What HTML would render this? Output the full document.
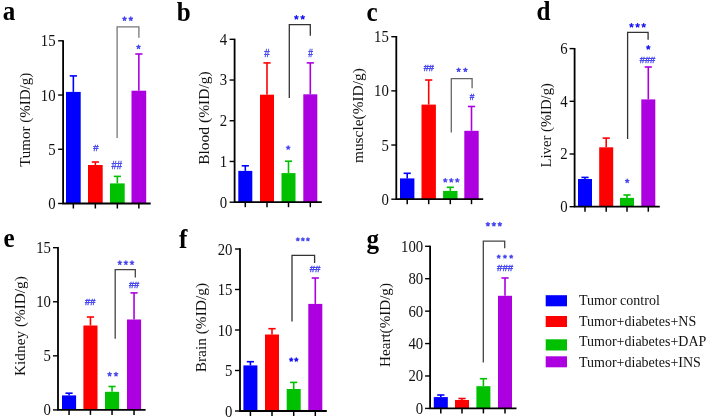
<!DOCTYPE html>
<html><head><meta charset="utf-8"><style>
html,body{margin:0;padding:0;background:#fff;}
svg{display:block;will-change:transform;filter:blur(0.3px);}
.t{font-family:"Liberation Serif",serif;font-size:15px;fill:#111;}
.ti{font-family:"Liberation Serif",serif;fill:#111;}
.L{font-family:"Liberation Serif",serif;font-size:27px;font-weight:bold;fill:#000;}
.m{font-family:"Liberation Sans",sans-serif;}
.lg{font-family:"Liberation Serif",serif;font-size:14px;fill:#111;}
</style></head><body>
<svg width="708" height="420" viewBox="0 0 708 420">
<rect width="708" height="420" fill="#fff"/>
<rect x="66" y="91.9" width="14.7" height="111.6" fill="#0000FF"/>
<line x1="73.35" y1="91.9" x2="73.35" y2="75.9" stroke="#0000FF" stroke-width="1.6"/>
<line x1="69.75" y1="75.9" x2="76.95" y2="75.9" stroke="#0000FF" stroke-width="1.6"/>
<rect x="88" y="165" width="14.7" height="38.5" fill="#FF0000"/>
<line x1="95.35" y1="165" x2="95.35" y2="162" stroke="#FF0000" stroke-width="1.6"/>
<line x1="91.75" y1="162" x2="98.95" y2="162" stroke="#FF0000" stroke-width="1.6"/>
<rect x="110" y="183.4" width="14.7" height="20.1" fill="#00C000"/>
<line x1="117.35" y1="183.4" x2="117.35" y2="176.4" stroke="#00C000" stroke-width="1.6"/>
<line x1="113.75" y1="176.4" x2="120.95" y2="176.4" stroke="#00C000" stroke-width="1.6"/>
<rect x="131.5" y="90.7" width="14.7" height="112.8" fill="#AC00E0"/>
<line x1="138.85" y1="90.7" x2="138.85" y2="54" stroke="#AC00E0" stroke-width="1.6"/>
<line x1="135.25" y1="54" x2="142.45" y2="54" stroke="#AC00E0" stroke-width="1.6"/>
<path d="M63.1 40.15V203.5H150.7" fill="none" stroke="#000" stroke-width="1.8"/>
<line x1="58.1" y1="203.5" x2="63.1" y2="203.5" stroke="#000" stroke-width="1.4"/>
<text transform="translate(55.6 209.1) scale(0.985 1.06)" class="t" text-anchor="end">0</text>
<line x1="58.1" y1="149.27" x2="63.1" y2="149.27" stroke="#000" stroke-width="1.4"/>
<text transform="translate(55.6 154.87) scale(0.985 1.06)" class="t" text-anchor="end">5</text>
<line x1="58.1" y1="95.03" x2="63.1" y2="95.03" stroke="#000" stroke-width="1.4"/>
<text transform="translate(55.6 100.63) scale(0.985 1.06)" class="t" text-anchor="end">10</text>
<line x1="58.1" y1="40.8" x2="63.1" y2="40.8" stroke="#000" stroke-width="1.4"/>
<text transform="translate(55.6 46.4) scale(0.985 1.06)" class="t" text-anchor="end">15</text>
<line x1="73.35" y1="203.5" x2="73.35" y2="208.5" stroke="#000" stroke-width="1.5"/>
<line x1="95.35" y1="203.5" x2="95.35" y2="208.5" stroke="#000" stroke-width="1.5"/>
<line x1="117.35" y1="203.5" x2="117.35" y2="208.5" stroke="#000" stroke-width="1.5"/>
<line x1="138.85" y1="203.5" x2="138.85" y2="208.5" stroke="#000" stroke-width="1.5"/>
<text transform="translate(29.6 166.83) rotate(-90)" class="ti" font-size="15">Tumor (%ID/g)</text>
<text transform="translate(2.8 19.8) scale(0.93 1)" class="L">a</text>
<path d="M117.1 138V26.9H138.9V37.7" fill="none" stroke="#777" stroke-width="1.3"/>
<path d="M124.50 18.80L124.50 17.02M124.50 18.80L126.19 18.25M124.50 18.80L125.54 20.24M124.50 18.80L123.46 20.24M124.50 18.80L122.81 18.25" stroke="#4545F0" stroke-width="1.35" stroke-linecap="round" fill="none"/>
<path d="M130.80 18.80L130.80 17.02M130.80 18.80L132.49 18.25M130.80 18.80L131.84 20.24M130.80 18.80L129.76 20.24M130.80 18.80L129.11 18.25" stroke="#4545F0" stroke-width="1.35" stroke-linecap="round" fill="none"/>
<path d="M138.50 47.00L138.50 45.22M138.50 47.00L140.19 46.45M138.50 47.00L139.54 48.44M138.50 47.00L137.46 48.44M138.50 47.00L136.81 46.45" stroke="#4545F0" stroke-width="1.35" stroke-linecap="round" fill="none"/>
<text transform="translate(93.4 150.6) scale(0.971 1)" x="-0.04" y="0" class="m" font-size="9.79" fill="#4545F0" stroke="#4545F0" stroke-width="0.35">#</text>
<text transform="translate(111.6 169.3) scale(0.917 1)" x="-0.05" y="0" class="m" font-size="10.38" fill="#4545F0" stroke="#4545F0" stroke-width="0.35">##</text>
<rect x="238.3" y="170.9" width="14" height="31.3" fill="#0000FF"/>
<line x1="245.3" y1="170.9" x2="245.3" y2="165.8" stroke="#0000FF" stroke-width="1.6"/>
<line x1="241.7" y1="165.8" x2="248.9" y2="165.8" stroke="#0000FF" stroke-width="1.6"/>
<rect x="260" y="94.7" width="14" height="107.5" fill="#FF0000"/>
<line x1="267" y1="94.7" x2="267" y2="62.9" stroke="#FF0000" stroke-width="1.6"/>
<line x1="263.4" y1="62.9" x2="270.6" y2="62.9" stroke="#FF0000" stroke-width="1.6"/>
<rect x="281.5" y="173.1" width="14" height="29.1" fill="#00C000"/>
<line x1="288.5" y1="173.1" x2="288.5" y2="161.2" stroke="#00C000" stroke-width="1.6"/>
<line x1="284.9" y1="161.2" x2="292.1" y2="161.2" stroke="#00C000" stroke-width="1.6"/>
<rect x="303.3" y="94.3" width="14" height="107.9" fill="#AC00E0"/>
<line x1="310.3" y1="94.3" x2="310.3" y2="62.9" stroke="#AC00E0" stroke-width="1.6"/>
<line x1="306.7" y1="62.9" x2="313.9" y2="62.9" stroke="#AC00E0" stroke-width="1.6"/>
<path d="M234.6 38.65V202.2H321.8" fill="none" stroke="#000" stroke-width="1.8"/>
<line x1="229.6" y1="202.2" x2="234.6" y2="202.2" stroke="#000" stroke-width="1.4"/>
<text transform="translate(227.1 207.5) scale(0.985 1.06)" class="t" text-anchor="end">0</text>
<line x1="229.6" y1="161.47" x2="234.6" y2="161.47" stroke="#000" stroke-width="1.4"/>
<text transform="translate(227.1 166.77) scale(0.985 1.06)" class="t" text-anchor="end">1</text>
<line x1="229.6" y1="120.75" x2="234.6" y2="120.75" stroke="#000" stroke-width="1.4"/>
<text transform="translate(227.1 126.05) scale(0.985 1.06)" class="t" text-anchor="end">2</text>
<line x1="229.6" y1="80.03" x2="234.6" y2="80.03" stroke="#000" stroke-width="1.4"/>
<text transform="translate(227.1 85.33) scale(0.985 1.06)" class="t" text-anchor="end">3</text>
<line x1="229.6" y1="39.3" x2="234.6" y2="39.3" stroke="#000" stroke-width="1.4"/>
<text transform="translate(227.1 44.6) scale(0.985 1.06)" class="t" text-anchor="end">4</text>
<line x1="245.3" y1="202.2" x2="245.3" y2="207.2" stroke="#000" stroke-width="1.5"/>
<line x1="267" y1="202.2" x2="267" y2="207.2" stroke="#000" stroke-width="1.5"/>
<line x1="288.5" y1="202.2" x2="288.5" y2="207.2" stroke="#000" stroke-width="1.5"/>
<line x1="310.3" y1="202.2" x2="310.3" y2="207.2" stroke="#000" stroke-width="1.5"/>
<text transform="translate(208.5 164.79) rotate(-90)" class="ti" font-size="15.5">Blood (%ID/g)</text>
<text transform="translate(176.8 20.5) scale(0.93 1)" class="L">b</text>
<path d="M289.3 97.9V24.6H310.3V35.7" fill="none" stroke="#333" stroke-width="1.3"/>
<path d="M296.40 17.40L296.40 15.55M296.40 17.40L298.16 16.83M296.40 17.40L297.49 18.90M296.40 17.40L295.31 18.90M296.40 17.40L294.64 16.83" stroke="#1515F5" stroke-width="1.35" stroke-linecap="round" fill="none"/>
<path d="M302.70 17.40L302.70 15.55M302.70 17.40L304.46 16.83M302.70 17.40L303.79 18.90M302.70 17.40L301.61 18.90M302.70 17.40L300.94 16.83" stroke="#1515F5" stroke-width="1.35" stroke-linecap="round" fill="none"/>
<path d="M288.20 147.70L288.20 145.92M288.20 147.70L289.89 147.15M288.20 147.70L289.24 149.14M288.20 147.70L287.16 149.14M288.20 147.70L286.51 147.15" stroke="#4545F0" stroke-width="1.35" stroke-linecap="round" fill="none"/>
<text transform="translate(264.4 57.3) scale(0.943 1)" x="-0.04" y="0" class="m" font-size="10.09" fill="#4545F0" stroke="#4545F0" stroke-width="0.35">#</text>
<text transform="translate(308.3 57.3) scale(0.816 1)" x="-0.04" y="0" class="m" font-size="10.09" fill="#4545F0" stroke="#4545F0" stroke-width="0.35">#</text>
<rect x="400" y="178.4" width="14.4" height="20.8" fill="#0000FF"/>
<line x1="407.2" y1="178.4" x2="407.2" y2="173.3" stroke="#0000FF" stroke-width="1.6"/>
<line x1="403.6" y1="173.3" x2="410.8" y2="173.3" stroke="#0000FF" stroke-width="1.6"/>
<rect x="421.5" y="104.6" width="14.4" height="94.6" fill="#FF0000"/>
<line x1="428.7" y1="104.6" x2="428.7" y2="80" stroke="#FF0000" stroke-width="1.6"/>
<line x1="425.1" y1="80" x2="432.3" y2="80" stroke="#FF0000" stroke-width="1.6"/>
<rect x="443.1" y="190.9" width="14.4" height="8.3" fill="#00C000"/>
<line x1="450.3" y1="190.9" x2="450.3" y2="187.3" stroke="#00C000" stroke-width="1.6"/>
<line x1="446.7" y1="187.3" x2="453.9" y2="187.3" stroke="#00C000" stroke-width="1.6"/>
<rect x="464.3" y="130.8" width="14.4" height="68.4" fill="#AC00E0"/>
<line x1="471.5" y1="130.8" x2="471.5" y2="106.5" stroke="#AC00E0" stroke-width="1.6"/>
<line x1="467.9" y1="106.5" x2="475.1" y2="106.5" stroke="#AC00E0" stroke-width="1.6"/>
<path d="M396.3 36.05V199.2H483.2" fill="none" stroke="#000" stroke-width="1.8"/>
<line x1="391.3" y1="199.2" x2="396.3" y2="199.2" stroke="#000" stroke-width="1.4"/>
<text transform="translate(388.8 204.8) scale(0.985 1.06)" class="t" text-anchor="end">0</text>
<line x1="391.3" y1="145.03" x2="396.3" y2="145.03" stroke="#000" stroke-width="1.4"/>
<text transform="translate(388.8 150.63) scale(0.985 1.06)" class="t" text-anchor="end">5</text>
<line x1="391.3" y1="90.87" x2="396.3" y2="90.87" stroke="#000" stroke-width="1.4"/>
<text transform="translate(388.8 96.47) scale(0.985 1.06)" class="t" text-anchor="end">10</text>
<line x1="391.3" y1="36.7" x2="396.3" y2="36.7" stroke="#000" stroke-width="1.4"/>
<text transform="translate(388.8 42.3) scale(0.985 1.06)" class="t" text-anchor="end">15</text>
<line x1="407.2" y1="199.2" x2="407.2" y2="204.2" stroke="#000" stroke-width="1.5"/>
<line x1="428.7" y1="199.2" x2="428.7" y2="204.2" stroke="#000" stroke-width="1.5"/>
<line x1="450.3" y1="199.2" x2="450.3" y2="204.2" stroke="#000" stroke-width="1.5"/>
<line x1="471.5" y1="199.2" x2="471.5" y2="204.2" stroke="#000" stroke-width="1.5"/>
<text transform="translate(362.6 163.09) rotate(-90)" class="ti" font-size="15.4">muscle(%ID/g)</text>
<text transform="translate(366.5 20.6) scale(0.93 1)" class="L">c</text>
<path d="M451.3 132.5V78.6H472.1V88.3" fill="none" stroke="#666" stroke-width="1.3"/>
<path d="M458.60 69.90L458.60 68.12M458.60 69.90L460.29 69.35M458.60 69.90L459.64 71.34M458.60 69.90L457.56 71.34M458.60 69.90L456.91 69.35" stroke="#4545F0" stroke-width="1.35" stroke-linecap="round" fill="none"/>
<path d="M465.40 69.90L465.40 68.12M465.40 69.90L467.09 69.35M465.40 69.90L466.44 71.34M465.40 69.90L464.36 71.34M465.40 69.90L463.71 69.35" stroke="#4545F0" stroke-width="1.35" stroke-linecap="round" fill="none"/>
<path d="M445.30 180.40L445.30 178.55M445.30 180.40L447.06 179.83M445.30 180.40L446.39 181.90M445.30 180.40L444.21 181.90M445.30 180.40L443.54 179.83" stroke="#4545F0" stroke-width="1.35" stroke-linecap="round" fill="none"/>
<path d="M451.30 180.40L451.30 178.55M451.30 180.40L453.06 179.83M451.30 180.40L452.39 181.90M451.30 180.40L450.21 181.90M451.30 180.40L449.54 179.83" stroke="#4545F0" stroke-width="1.35" stroke-linecap="round" fill="none"/>
<path d="M457.30 180.40L457.30 178.55M457.30 180.40L459.06 179.83M457.30 180.40L458.39 181.90M457.30 180.40L456.21 181.90M457.30 180.40L455.54 179.83" stroke="#4545F0" stroke-width="1.35" stroke-linecap="round" fill="none"/>
<text transform="translate(423.7 71) scale(1.130 1)" x="-0.04" y="0" class="m" font-size="8.19" fill="#4545F0" stroke="#4545F0" stroke-width="0.35">##</text>
<text transform="translate(469.7 100.3) scale(1.005 1)" x="-0.04" y="0" class="m" font-size="8.19" fill="#4545F0" stroke="#4545F0" stroke-width="0.35">#</text>
<rect x="578" y="179" width="14" height="27.7" fill="#0000FF"/>
<line x1="585" y1="179" x2="585" y2="177.4" stroke="#0000FF" stroke-width="1.6"/>
<line x1="581.4" y1="177.4" x2="588.6" y2="177.4" stroke="#0000FF" stroke-width="1.6"/>
<rect x="599.2" y="147.3" width="14" height="59.4" fill="#FF0000"/>
<line x1="606.2" y1="147.3" x2="606.2" y2="138.1" stroke="#FF0000" stroke-width="1.6"/>
<line x1="602.6" y1="138.1" x2="609.8" y2="138.1" stroke="#FF0000" stroke-width="1.6"/>
<rect x="620" y="197.9" width="14" height="8.8" fill="#00C000"/>
<line x1="627" y1="197.9" x2="627" y2="195" stroke="#00C000" stroke-width="1.6"/>
<line x1="623.4" y1="195" x2="630.6" y2="195" stroke="#00C000" stroke-width="1.6"/>
<rect x="641.3" y="99.4" width="14" height="107.3" fill="#AC00E0"/>
<line x1="648.3" y1="99.4" x2="648.3" y2="67" stroke="#AC00E0" stroke-width="1.6"/>
<line x1="644.7" y1="67" x2="651.9" y2="67" stroke="#AC00E0" stroke-width="1.6"/>
<path d="M574.6 47.95V206.7H659.8" fill="none" stroke="#000" stroke-width="1.8"/>
<line x1="569.6" y1="206.7" x2="574.6" y2="206.7" stroke="#000" stroke-width="1.4"/>
<text transform="translate(567.7 212.1) scale(0.985 1.06)" class="t" text-anchor="end">0</text>
<line x1="569.6" y1="154" x2="574.6" y2="154" stroke="#000" stroke-width="1.4"/>
<text transform="translate(567.7 159.4) scale(0.985 1.06)" class="t" text-anchor="end">2</text>
<line x1="569.6" y1="101.3" x2="574.6" y2="101.3" stroke="#000" stroke-width="1.4"/>
<text transform="translate(567.7 106.7) scale(0.985 1.06)" class="t" text-anchor="end">4</text>
<line x1="569.6" y1="48.6" x2="574.6" y2="48.6" stroke="#000" stroke-width="1.4"/>
<text transform="translate(567.7 54) scale(0.985 1.06)" class="t" text-anchor="end">6</text>
<line x1="585" y1="206.7" x2="585" y2="211.7" stroke="#000" stroke-width="1.5"/>
<line x1="606.2" y1="206.7" x2="606.2" y2="211.7" stroke="#000" stroke-width="1.5"/>
<line x1="627" y1="206.7" x2="627" y2="211.7" stroke="#000" stroke-width="1.5"/>
<line x1="648.3" y1="206.7" x2="648.3" y2="211.7" stroke="#000" stroke-width="1.5"/>
<text transform="translate(550.8 167.48) rotate(-90)" class="ti" font-size="14.7">Liver (%ID/g)</text>
<text transform="translate(536.4 20) scale(0.93 1)" class="L">d</text>
<path d="M627.6 138.9V32.4H648.1V39.7" fill="none" stroke="#333" stroke-width="1.3"/>
<path d="M631.50 25.40L631.50 23.55M631.50 25.40L633.26 24.83M631.50 25.40L632.59 26.90M631.50 25.40L630.41 26.90M631.50 25.40L629.74 24.83" stroke="#1515F5" stroke-width="1.35" stroke-linecap="round" fill="none"/>
<path d="M637.60 25.40L637.60 23.55M637.60 25.40L639.36 24.83M637.60 25.40L638.69 26.90M637.60 25.40L636.51 26.90M637.60 25.40L635.84 24.83" stroke="#1515F5" stroke-width="1.35" stroke-linecap="round" fill="none"/>
<path d="M643.70 25.40L643.70 23.55M643.70 25.40L645.46 24.83M643.70 25.40L644.79 26.90M643.70 25.40L642.61 26.90M643.70 25.40L641.94 24.83" stroke="#1515F5" stroke-width="1.35" stroke-linecap="round" fill="none"/>
<path d="M648.30 47.50L648.30 45.72M648.30 47.50L649.99 46.95M648.30 47.50L649.34 48.94M648.30 47.50L647.26 48.94M648.30 47.50L646.61 46.95" stroke="#1515F5" stroke-width="1.35" stroke-linecap="round" fill="none"/>
<path d="M627.20 181.00L627.20 179.22M627.20 181.00L628.89 180.45M627.20 181.00L628.24 182.44M627.20 181.00L626.16 182.44M627.20 181.00L625.51 180.45" stroke="#4545F0" stroke-width="1.35" stroke-linecap="round" fill="none"/>
<text transform="translate(639.7 62.7) scale(1.037 1)" x="-0.04" y="0" class="m" font-size="9.06" fill="#4545F0" stroke="#4545F0" stroke-width="0.35">###</text>
<rect x="62" y="395.4" width="14.1" height="14.5" fill="#0000FF"/>
<line x1="69.05" y1="395.4" x2="69.05" y2="393.2" stroke="#0000FF" stroke-width="1.6"/>
<line x1="65.45" y1="393.2" x2="72.65" y2="393.2" stroke="#0000FF" stroke-width="1.6"/>
<rect x="83.4" y="325.5" width="14.1" height="84.4" fill="#FF0000"/>
<line x1="90.45" y1="325.5" x2="90.45" y2="317" stroke="#FF0000" stroke-width="1.6"/>
<line x1="86.85" y1="317" x2="94.05" y2="317" stroke="#FF0000" stroke-width="1.6"/>
<rect x="105" y="391.8" width="14.1" height="18.1" fill="#00C000"/>
<line x1="112.05" y1="391.8" x2="112.05" y2="386.5" stroke="#00C000" stroke-width="1.6"/>
<line x1="108.45" y1="386.5" x2="115.65" y2="386.5" stroke="#00C000" stroke-width="1.6"/>
<rect x="127" y="319.5" width="14.1" height="90.4" fill="#AC00E0"/>
<line x1="134.05" y1="319.5" x2="134.05" y2="292.9" stroke="#AC00E0" stroke-width="1.6"/>
<line x1="130.45" y1="292.9" x2="137.65" y2="292.9" stroke="#AC00E0" stroke-width="1.6"/>
<path d="M58 247.05V409.9H145.6" fill="none" stroke="#000" stroke-width="1.8"/>
<line x1="53" y1="409.9" x2="58" y2="409.9" stroke="#000" stroke-width="1.4"/>
<text transform="translate(50.9 415.1) scale(0.985 1.06)" class="t" text-anchor="end">0</text>
<line x1="53" y1="355.83" x2="58" y2="355.83" stroke="#000" stroke-width="1.4"/>
<text transform="translate(50.9 361.03) scale(0.985 1.06)" class="t" text-anchor="end">5</text>
<line x1="53" y1="301.77" x2="58" y2="301.77" stroke="#000" stroke-width="1.4"/>
<text transform="translate(50.9 306.97) scale(0.985 1.06)" class="t" text-anchor="end">10</text>
<line x1="53" y1="247.7" x2="58" y2="247.7" stroke="#000" stroke-width="1.4"/>
<text transform="translate(50.9 252.9) scale(0.985 1.06)" class="t" text-anchor="end">15</text>
<line x1="69.05" y1="409.9" x2="69.05" y2="414.9" stroke="#000" stroke-width="1.5"/>
<line x1="90.45" y1="409.9" x2="90.45" y2="414.9" stroke="#000" stroke-width="1.5"/>
<line x1="112.05" y1="409.9" x2="112.05" y2="414.9" stroke="#000" stroke-width="1.5"/>
<line x1="134.05" y1="409.9" x2="134.05" y2="414.9" stroke="#000" stroke-width="1.5"/>
<text transform="translate(25 375.96) rotate(-90)" class="ti" font-size="15.3">Kidney (%ID/g)</text>
<text transform="translate(3.5 247) scale(0.93 1)" class="L">e</text>
<path d="M115.2 338.7V269.6H135.3V277.4" fill="none" stroke="#444" stroke-width="1.3"/>
<path d="M119.80 262.80L119.80 260.95M119.80 262.80L121.56 262.23M119.80 262.80L120.89 264.30M119.80 262.80L118.71 264.30M119.80 262.80L118.04 262.23" stroke="#4545F0" stroke-width="1.35" stroke-linecap="round" fill="none"/>
<path d="M125.90 262.80L125.90 260.95M125.90 262.80L127.66 262.23M125.90 262.80L126.99 264.30M125.90 262.80L124.81 264.30M125.90 262.80L124.14 262.23" stroke="#4545F0" stroke-width="1.35" stroke-linecap="round" fill="none"/>
<path d="M132.00 262.80L132.00 260.95M132.00 262.80L133.76 262.23M132.00 262.80L133.09 264.30M132.00 262.80L130.91 264.30M132.00 262.80L130.24 262.23" stroke="#4545F0" stroke-width="1.35" stroke-linecap="round" fill="none"/>
<path d="M109.60 374.30L109.60 372.45M109.60 374.30L111.36 373.73M109.60 374.30L110.69 375.80M109.60 374.30L108.51 375.80M109.60 374.30L107.84 373.73" stroke="#4545F0" stroke-width="1.35" stroke-linecap="round" fill="none"/>
<path d="M116.00 374.30L116.00 372.45M116.00 374.30L117.76 373.73M116.00 374.30L117.09 375.80M116.00 374.30L114.91 375.80M116.00 374.30L114.24 373.73" stroke="#4545F0" stroke-width="1.35" stroke-linecap="round" fill="none"/>
<text transform="translate(129 287.9) scale(1.091 1)" x="-0.04" y="0" class="m" font-size="8.48" fill="#4545F0" stroke="#4545F0" stroke-width="0.35">##</text>
<text transform="translate(85.1 304.6) scale(1.130 1)" x="-0.04" y="0" class="m" font-size="8.19" fill="#4545F0" stroke="#4545F0" stroke-width="0.35">##</text>
<rect x="243.4" y="365.4" width="14" height="45.6" fill="#0000FF"/>
<line x1="250.4" y1="365.4" x2="250.4" y2="361.7" stroke="#0000FF" stroke-width="1.6"/>
<line x1="246.8" y1="361.7" x2="254" y2="361.7" stroke="#0000FF" stroke-width="1.6"/>
<rect x="265" y="334.5" width="14" height="76.5" fill="#FF0000"/>
<line x1="272" y1="334.5" x2="272" y2="328.7" stroke="#FF0000" stroke-width="1.6"/>
<line x1="268.4" y1="328.7" x2="275.6" y2="328.7" stroke="#FF0000" stroke-width="1.6"/>
<rect x="286.7" y="389" width="14" height="22" fill="#00C000"/>
<line x1="293.7" y1="389" x2="293.7" y2="382.4" stroke="#00C000" stroke-width="1.6"/>
<line x1="290.1" y1="382.4" x2="297.3" y2="382.4" stroke="#00C000" stroke-width="1.6"/>
<rect x="308.3" y="303.9" width="14" height="107.1" fill="#AC00E0"/>
<line x1="315.3" y1="303.9" x2="315.3" y2="278" stroke="#AC00E0" stroke-width="1.6"/>
<line x1="311.7" y1="278" x2="318.9" y2="278" stroke="#AC00E0" stroke-width="1.6"/>
<path d="M240 248.35V411H326.8" fill="none" stroke="#000" stroke-width="1.8"/>
<line x1="235" y1="411" x2="240" y2="411" stroke="#000" stroke-width="1.4"/>
<text transform="translate(232.5 416.6) scale(0.985 1.06)" class="t" text-anchor="end">0</text>
<line x1="235" y1="370.5" x2="240" y2="370.5" stroke="#000" stroke-width="1.4"/>
<text transform="translate(232.5 376.1) scale(0.985 1.06)" class="t" text-anchor="end">5</text>
<line x1="235" y1="330" x2="240" y2="330" stroke="#000" stroke-width="1.4"/>
<text transform="translate(232.5 335.6) scale(0.985 1.06)" class="t" text-anchor="end">10</text>
<line x1="235" y1="289.5" x2="240" y2="289.5" stroke="#000" stroke-width="1.4"/>
<text transform="translate(232.5 295.1) scale(0.985 1.06)" class="t" text-anchor="end">15</text>
<line x1="235" y1="249" x2="240" y2="249" stroke="#000" stroke-width="1.4"/>
<text transform="translate(232.5 254.6) scale(0.985 1.06)" class="t" text-anchor="end">20</text>
<line x1="250.4" y1="411" x2="250.4" y2="416" stroke="#000" stroke-width="1.5"/>
<line x1="272" y1="411" x2="272" y2="416" stroke="#000" stroke-width="1.5"/>
<line x1="293.7" y1="411" x2="293.7" y2="416" stroke="#000" stroke-width="1.5"/>
<line x1="315.3" y1="411" x2="315.3" y2="416" stroke="#000" stroke-width="1.5"/>
<text transform="translate(205.5 372.32) rotate(-90)" class="ti" font-size="15.4">Brain (%ID/g)</text>
<text transform="translate(179 247.5) scale(0.93 1)" class="L">f</text>
<path d="M292 321.5V255.3H314.6V262.9" fill="none" stroke="#333" stroke-width="1.3"/>
<path d="M297.80 239.40L297.80 237.85M297.80 239.40L299.28 238.92M297.80 239.40L298.71 240.66M297.80 239.40L296.89 240.66M297.80 239.40L296.32 238.92" stroke="#4545F0" stroke-width="1.35" stroke-linecap="round" fill="none"/>
<path d="M302.85 239.40L302.85 237.85M302.85 239.40L304.33 238.92M302.85 239.40L303.76 240.66M302.85 239.40L301.94 240.66M302.85 239.40L301.37 238.92" stroke="#4545F0" stroke-width="1.35" stroke-linecap="round" fill="none"/>
<path d="M307.90 239.40L307.90 237.85M307.90 239.40L309.38 238.92M307.90 239.40L308.81 240.66M307.90 239.40L306.99 240.66M307.90 239.40L306.42 238.92" stroke="#4545F0" stroke-width="1.35" stroke-linecap="round" fill="none"/>
<path d="M291.20 359.60L291.20 357.90M291.20 359.60L292.82 359.07M291.20 359.60L292.20 360.98M291.20 359.60L290.20 360.98M291.20 359.60L289.58 359.07" stroke="#1515F5" stroke-width="1.35" stroke-linecap="round" fill="none"/>
<path d="M296.30 359.60L296.30 357.90M296.30 359.60L297.92 359.07M296.30 359.60L297.30 360.98M296.30 359.60L295.30 360.98M296.30 359.60L294.68 359.07" stroke="#1515F5" stroke-width="1.35" stroke-linecap="round" fill="none"/>
<text transform="translate(309.7 272.2) scale(1.153 1)" x="-0.04" y="0" class="m" font-size="8.33" fill="#4545F0" stroke="#4545F0" stroke-width="0.35">##</text>
<rect x="433.8" y="397.1" width="14" height="11.3" fill="#0000FF"/>
<line x1="440.8" y1="397.1" x2="440.8" y2="395" stroke="#0000FF" stroke-width="1.6"/>
<line x1="437.2" y1="395" x2="444.4" y2="395" stroke="#0000FF" stroke-width="1.6"/>
<rect x="455" y="400" width="14" height="8.4" fill="#FF0000"/>
<line x1="462" y1="400" x2="462" y2="398.5" stroke="#FF0000" stroke-width="1.6"/>
<line x1="458.4" y1="398.5" x2="465.6" y2="398.5" stroke="#FF0000" stroke-width="1.6"/>
<rect x="476.4" y="386.2" width="14" height="22.2" fill="#00C000"/>
<line x1="483.4" y1="386.2" x2="483.4" y2="378.7" stroke="#00C000" stroke-width="1.6"/>
<line x1="479.8" y1="378.7" x2="487" y2="378.7" stroke="#00C000" stroke-width="1.6"/>
<rect x="498" y="295.8" width="14" height="112.6" fill="#AC00E0"/>
<line x1="505" y1="295.8" x2="505" y2="278" stroke="#AC00E0" stroke-width="1.6"/>
<line x1="501.4" y1="278" x2="508.6" y2="278" stroke="#AC00E0" stroke-width="1.6"/>
<path d="M430.1 245.65V408.4H516.5" fill="none" stroke="#000" stroke-width="1.8"/>
<line x1="425.1" y1="408.4" x2="430.1" y2="408.4" stroke="#000" stroke-width="1.4"/>
<text transform="translate(423.2 413.9) scale(0.985 1.06)" class="t" text-anchor="end">0</text>
<line x1="425.1" y1="375.98" x2="430.1" y2="375.98" stroke="#000" stroke-width="1.4"/>
<text transform="translate(423.2 381.48) scale(0.985 1.06)" class="t" text-anchor="end">20</text>
<line x1="425.1" y1="343.56" x2="430.1" y2="343.56" stroke="#000" stroke-width="1.4"/>
<text transform="translate(423.2 349.06) scale(0.985 1.06)" class="t" text-anchor="end">40</text>
<line x1="425.1" y1="311.14" x2="430.1" y2="311.14" stroke="#000" stroke-width="1.4"/>
<text transform="translate(423.2 316.64) scale(0.985 1.06)" class="t" text-anchor="end">60</text>
<line x1="425.1" y1="278.72" x2="430.1" y2="278.72" stroke="#000" stroke-width="1.4"/>
<text transform="translate(423.2 284.22) scale(0.985 1.06)" class="t" text-anchor="end">80</text>
<line x1="425.1" y1="246.3" x2="430.1" y2="246.3" stroke="#000" stroke-width="1.4"/>
<text transform="translate(423.2 251.8) scale(0.985 1.06)" class="t" text-anchor="end">100</text>
<line x1="440.8" y1="408.4" x2="440.8" y2="413.4" stroke="#000" stroke-width="1.5"/>
<line x1="462" y1="408.4" x2="462" y2="413.4" stroke="#000" stroke-width="1.5"/>
<line x1="483.4" y1="408.4" x2="483.4" y2="413.4" stroke="#000" stroke-width="1.5"/>
<line x1="505" y1="408.4" x2="505" y2="413.4" stroke="#000" stroke-width="1.5"/>
<text transform="translate(390 366.91) rotate(-90)" class="ti" font-size="15.1">Heart(%ID/g)</text>
<text transform="translate(366.5 248) scale(0.93 1)" class="L">g</text>
<path d="M483.3 362.5V241.2H504.7V248.3" fill="none" stroke="#444" stroke-width="1.3"/>
<path d="M487.90 224.30L487.90 222.52M487.90 224.30L489.59 223.75M487.90 224.30L488.94 225.74M487.90 224.30L486.86 225.74M487.90 224.30L486.21 223.75" stroke="#4545F0" stroke-width="1.35" stroke-linecap="round" fill="none"/>
<path d="M493.85 224.30L493.85 222.52M493.85 224.30L495.54 223.75M493.85 224.30L494.89 225.74M493.85 224.30L492.81 225.74M493.85 224.30L492.16 223.75" stroke="#4545F0" stroke-width="1.35" stroke-linecap="round" fill="none"/>
<path d="M499.80 224.30L499.80 222.52M499.80 224.30L501.49 223.75M499.80 224.30L500.84 225.74M499.80 224.30L498.76 225.74M499.80 224.30L498.11 223.75" stroke="#4545F0" stroke-width="1.35" stroke-linecap="round" fill="none"/>
<path d="M498.70 256.70L498.70 255.15M498.70 256.70L500.18 256.22M498.70 256.70L499.61 257.96M498.70 256.70L497.79 257.96M498.70 256.70L497.22 256.22" stroke="#4545F0" stroke-width="1.35" stroke-linecap="round" fill="none"/>
<path d="M504.95 256.70L504.95 255.15M504.95 256.70L506.43 256.22M504.95 256.70L505.86 257.96M504.95 256.70L504.04 257.96M504.95 256.70L503.47 256.22" stroke="#4545F0" stroke-width="1.35" stroke-linecap="round" fill="none"/>
<path d="M511.20 256.70L511.20 255.15M511.20 256.70L512.68 256.22M511.20 256.70L512.11 257.96M511.20 256.70L510.29 257.96M511.20 256.70L509.72 256.22" stroke="#4545F0" stroke-width="1.35" stroke-linecap="round" fill="none"/>
<text transform="translate(497.1 271.2) scale(1.088 1)" x="-0.04" y="0" class="m" font-size="8.92" fill="#4545F0" stroke="#4545F0" stroke-width="0.35">###</text>
<rect x="545.7" y="295.2" width="21.3" height="11.1" fill="#0000FF"/>
<text x="579" y="305" class="lg">Tumor control</text>
<rect x="545.7" y="316" width="21.3" height="11" fill="#FF0000"/>
<text x="579" y="325.5" class="lg">Tumor+diabetes+NS</text>
<rect x="545.7" y="339.3" width="21.3" height="11.2" fill="#00C000"/>
<text x="579" y="346" class="lg">Tumor+diabetes+DAP</text>
<rect x="545.7" y="356.3" width="21.3" height="11" fill="#AC00E0"/>
<text x="579" y="366.5" class="lg">Tumor+diabetes+INS</text>
</svg>
</body></html>
